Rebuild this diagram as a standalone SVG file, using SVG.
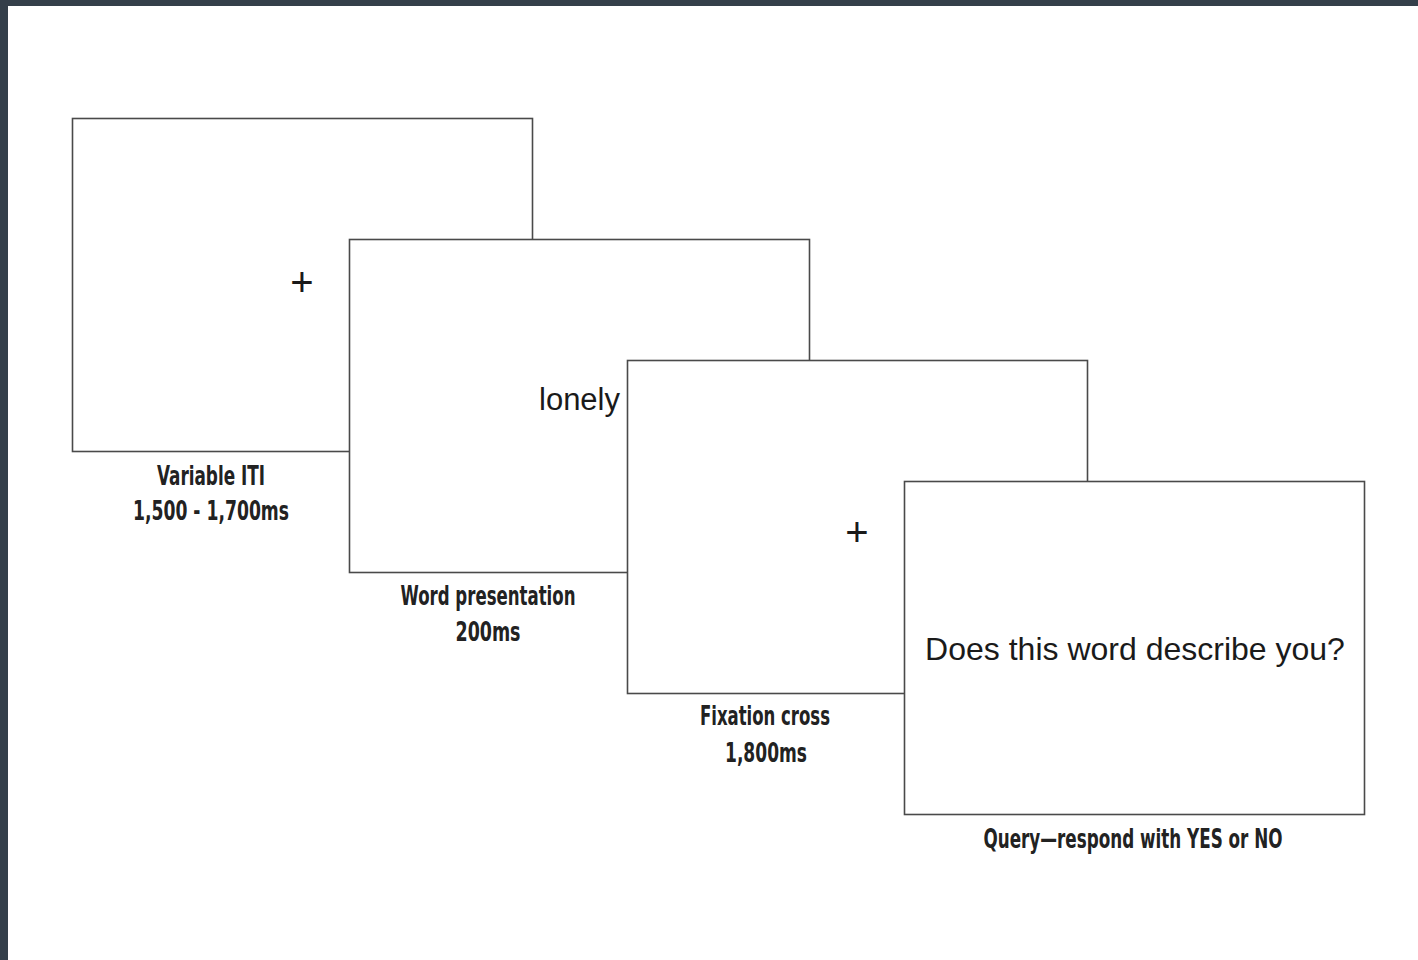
<svg xmlns="http://www.w3.org/2000/svg" width="1418" height="960" viewBox="0 0 1418 960">
<style>
.frame{fill:#fff;stroke:#4a4a4a;stroke-width:1.6}
.lab{font-family:"DejaVu Sans",sans-serif;font-stretch:condensed;font-size:27px;font-weight:bold;fill:#222;text-anchor:middle}
.scr{font-family:"Liberation Sans",Arial,sans-serif;fill:#1a1a1a}
</style>
<rect x="0" y="0" width="1418" height="960" fill="#343f4a"/>
<rect x="8" y="6" width="1410" height="954" fill="#fff"/>
<g id="screen1">
<rect class="frame" x="72.5" y="118.5" width="460" height="333"/>
<text class="scr" x="302" y="296" font-size="40" text-anchor="middle">+</text>
<text class="lab" x="211" y="485" textLength="108" lengthAdjust="spacingAndGlyphs">Variable ITI</text>
<text class="lab" x="211" y="520" textLength="156" lengthAdjust="spacingAndGlyphs">1,500 - 1,700ms</text>
</g>
<g id="screen2">
<rect class="frame" x="349.5" y="239.5" width="460" height="333"/>
<text class="scr" x="620" y="410" font-size="31" text-anchor="end">lonely</text>
<text class="lab" x="488" y="605" textLength="175" lengthAdjust="spacingAndGlyphs">Word presentation</text>
<text class="lab" x="488" y="641" textLength="65" lengthAdjust="spacingAndGlyphs">200ms</text>
</g>
<g id="screen3">
<rect class="frame" x="627.5" y="360.5" width="460" height="333"/>
<text class="scr" x="857" y="546" font-size="40" text-anchor="middle">+</text>
<text class="lab" x="765" y="725" textLength="130" lengthAdjust="spacingAndGlyphs">Fixation cross</text>
<text class="lab" x="766" y="762" textLength="82" lengthAdjust="spacingAndGlyphs">1,800ms</text>
</g>
<g id="screen4">
<rect class="frame" x="904.5" y="481.5" width="460" height="333"/>
<text class="scr" x="1135" y="660" font-size="32" text-anchor="middle">Does this word describe you?</text>
<text class="lab" x="1133" y="848" textLength="299" lengthAdjust="spacingAndGlyphs">Query—respond with YES or NO</text>
</g>
<g id="connectors"/>
</svg>
